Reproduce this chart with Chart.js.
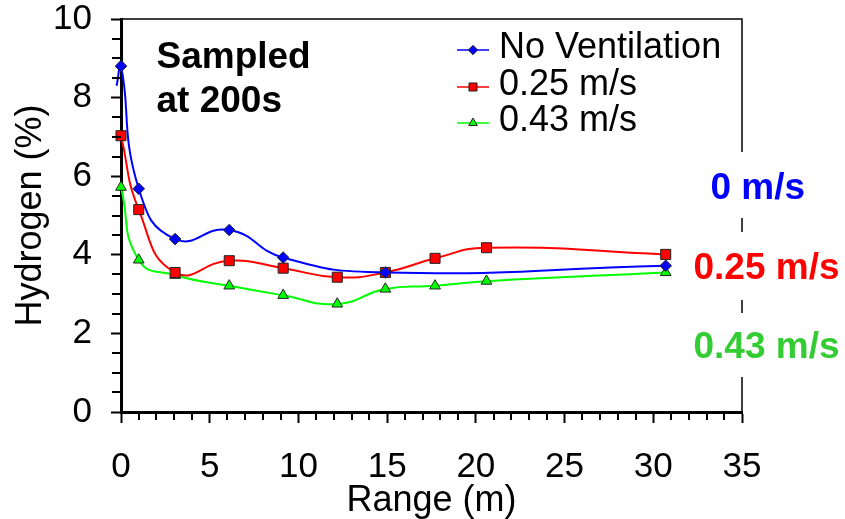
<!DOCTYPE html>
<html><head><meta charset="utf-8">
<script src="https://cdn.jsdelivr.net/npm/chart.js@4.4.1/dist/chart.umd.min.js"></script>
<style>html,body{margin:0;padding:0;background:#fff}#wrap{width:845px;height:519px}</style>
</head><body><div id="wrap"><canvas id="c" width="845" height="519"></canvas></div>
<script>
// ---- data ----
const rangeNoVent = [-0.25, 0, 1.0, 3.05, 6.1, 9.14, 14.9, 30.7];
const h2NoVent    = [8.3, 8.8, 5.68, 4.40, 4.63, 3.93, 3.55, 3.72];
const rangeVent   = [0, 1.0, 3.05, 6.1, 9.14, 12.19, 14.9, 17.7, 20.6, 30.7];
const h2Vent025   = [7.03, 5.15, 3.55, 3.85, 3.66, 3.43, 3.55, 3.91, 4.18, 4.01];
const h2Vent043   = [5.72, 3.87, 3.48, 3.21, 2.97, 2.75, 3.13, 3.21, 3.33, 3.55];
const seriesNames = ['No Ventilation', '0.25 m/s', '0.43 m/s'];
const noteLines   = ['Sampled', 'at 200s'];
const speedLabels = ['0 m/s', '0.25 m/s', '0.43 m/s'];
const xAxisTitle  = 'Range (m)';
const yAxisTitle  = 'Hydrogen (%)';
const xMin = 0, xMax = 35, xStep = 5, xMinorStep = 1;
const yMin = 0, yMax = 10, yStep = 2, yMinorStep = 0.5;

const FONT = "'Liberation Sans', Arial, sans-serif";
const toPts = (xs, ys) => xs.map((x, i) => ({x, y: ys[i]}));

const styles = [
  {line:'#0000ff', fill:'#0000ff', shape:'rectRot', r:5.8},
  {line:'#ff0000', fill:'#ff0000', shape:'rect', r:7.1},
  {line:'#00ff00', fill:'#00ff00', shape:'triangle', r:6.2}
];
const speedColors = ['#0000ff', '#ff0000', '#33cc33'];

function mkDs(i, pts, radii) {
  const s = styles[i];
  return {
    label: seriesNames[i], data: pts, showLine: true, tension: 0.5,
    borderColor: s.line, borderWidth: 2, backgroundColor: s.fill,
    pointStyle: s.shape, pointRadius: radii || s.r, pointBackgroundColor: s.fill,
    pointBorderColor: '#222', pointBorderWidth: 1, clip: false
  };
}

function drawMarker(ctx, shape, x, y, r, fill) {
  ctx.beginPath();
  if (shape === 'rectRot') {
    ctx.moveTo(x, y - r); ctx.lineTo(x + r, y); ctx.lineTo(x, y + r); ctx.lineTo(x - r, y);
  } else if (shape === 'rect') {
    const h = r * Math.SQRT1_2; ctx.rect(x - h, y - h, 2 * h, 2 * h);
  } else {
    ctx.moveTo(x, y - r);
    ctx.lineTo(x + r * Math.sin(Math.PI * 2 / 3), y - r * Math.cos(Math.PI * 2 / 3));
    ctx.lineTo(x - r * Math.sin(Math.PI * 2 / 3), y - r * Math.cos(Math.PI * 2 / 3));
  }
  ctx.closePath();
  ctx.fillStyle = fill; ctx.fill();
  ctx.strokeStyle = '#222'; ctx.lineWidth = 1; ctx.stroke();
}

const decor = {
  id: 'decor',
  afterDraw(chart) {
    const {ctx, chartArea: ca, scales: {x, y}} = chart;
    ctx.save();
    // minor ticks
    ctx.strokeStyle = '#000'; ctx.lineWidth = 2;
    for (let v = xMin; v <= xMax + 1e-9; v += xMinorStep) {
      if (Math.abs(v % xStep) < 1e-9) continue;
      const px = Math.round(x.getPixelForValue(v));
      ctx.beginPath(); ctx.moveTo(px, ca.bottom); ctx.lineTo(px, ca.bottom + 8); ctx.stroke();
    }
    for (let v = yMin; v <= yMax + 1e-9; v += yMinorStep) {
      if (Math.abs(v % yStep) < 1e-9) continue;
      const py = Math.round(y.getPixelForValue(v));
      ctx.beginPath(); ctx.moveTo(ca.left - 9, py); ctx.lineTo(ca.left, py); ctx.stroke();
    }
    // top & right frame
    ctx.lineWidth = 1.5;
    ctx.beginPath(); ctx.moveTo(ca.left, ca.top); ctx.lineTo(ca.right, ca.top); ctx.lineTo(ca.right, ca.bottom); ctx.stroke();

    // note text
    ctx.fillStyle = '#000'; ctx.font = 'bold 37px ' + FONT; ctx.textBaseline = 'alphabetic'; ctx.textAlign = 'left';
    ctx.fillText(noteLines[0], 156.5, 68);
    ctx.fillText(noteLines[1], 156.5, 112);

    // legend
    const rows = [50, 87, 123];
    chart.data.datasets.forEach((ds, i) => {
      const yy = rows[i];
      ctx.strokeStyle = styles[i].line; ctx.lineWidth = 1.5;
      ctx.beginPath(); ctx.moveTo(457, yy); ctx.lineTo(489, yy); ctx.stroke();
      drawMarker(ctx, styles[i].shape, 473, yy, styles[i].r * 0.8, styles[i].fill);
      ctx.fillStyle = '#000'; ctx.font = '36px ' + FONT; ctx.textBaseline = 'middle';
      ctx.fillText(ds.label, 499, yy - 1.5);
    });

    // speed labels at right, with white boxes
    const lab = [
      {x: 710.5, base: 199, top: 152, bot: 218},
      {x: 693.5, base: 279, top: 232, bot: 300},
      {x: 693.5, base: 358, top: 313, bot: 377}
    ];
    ctx.font = 'bold 37px ' + FONT; ctx.textBaseline = 'alphabetic';
    lab.forEach((L, i) => {
      const w = ctx.measureText(speedLabels[i]).width;
      ctx.fillStyle = '#fff';
      ctx.fillRect(L.x - 2, L.top, w + 4, L.bot - L.top);
      ctx.fillStyle = speedColors[i];
      ctx.fillText(speedLabels[i], L.x, L.base);
    });
    ctx.restore();
  }
};

new Chart(document.getElementById('c'), {
  type: 'scatter',
  data: {
    datasets: [
      mkDs(0, toPts(rangeNoVent, h2NoVent), h2NoVent.map((_, i) => i === 0 ? 0 : styles[0].r)),
      mkDs(1, toPts(rangeVent, h2Vent025)),
      mkDs(2, toPts(rangeVent, h2Vent043))
    ]
  },
  options: {
    responsive: false, animation: false, devicePixelRatio: 1,
    layout: {padding: {top: 19, right: 103, left: 0, bottom: 0}},
    plugins: {legend: {display: false}, tooltip: {enabled: false}},
    scales: {
      x: {
        type: 'linear', min: xMin, max: xMax,
        ticks: {stepSize: xStep, padding: 27, color: '#000', font: {family: FONT, size: 35, lineHeight: 1}, maxRotation: 0},
        grid: {drawOnChartArea: false, tickLength: 11, tickWidth: 2, tickColor: '#000'},
        border: {color: '#000', width: 3},
        title: {display: true, text: xAxisTitle, color: '#000', font: {family: FONT, size: 36, lineHeight: 1}, padding: {top: 0, bottom: 0}},
        afterFit(s) { s.height = 107; s.paddingLeft = 0; s.paddingRight = 0; }
      },
      y: {
        min: yMin, max: yMax,
        ticks: {stepSize: yStep, padding: 19, color: '#000', font: {family: FONT, size: 35, lineHeight: 1}},
        grid: {drawOnChartArea: false, tickLength: 10, tickWidth: 2, tickColor: '#000'},
        border: {color: '#000', width: 3},
        title: {display: true, text: yAxisTitle, color: '#000', font: {family: FONT, size: 36, lineHeight: 1}, padding: {top: 13, bottom: 0}},
        afterFit(s) { s.width = 121; s.paddingTop = 0; s.paddingBottom = 0; }
      }
    }
  },
  plugins: [decor]
});
</script></body></html>
